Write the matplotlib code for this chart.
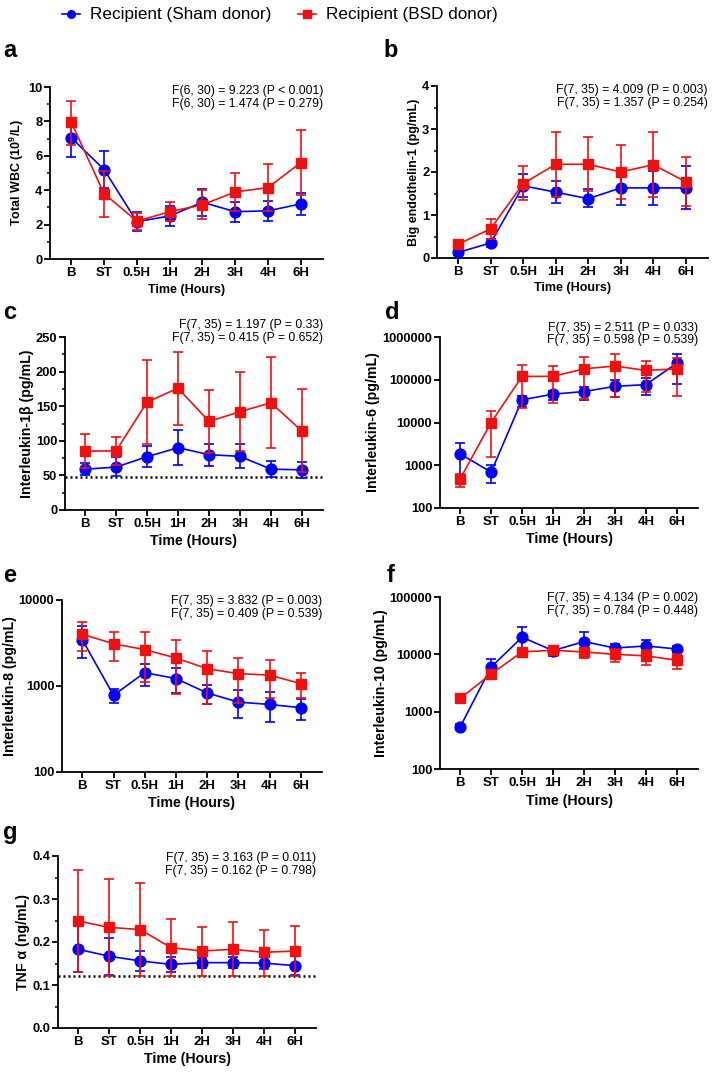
import numpy as np
import matplotlib
matplotlib.use("Agg")
import matplotlib.pyplot as plt
from matplotlib.ticker import FixedLocator, NullLocator, MultipleLocator
from matplotlib.lines import Line2D

plt.rcParams['font.family'] = ['Liberation Sans', 'DejaVu Sans']
plt.rcParams['mathtext.fontset'] = 'custom'
plt.rcParams['mathtext.rm'] = 'Liberation Sans'
plt.rcParams['mathtext.bf'] = 'Liberation Sans:bold'

W, H = 712, 1073
BLUE = '#0000FF'
RED = '#F01010'

times = ['B', 'ST', '0.5H', '1H', '2H', '3H', '4H', '6H']

# a - total WBC
wbc_sham = [7.05, 5.2, 2.17, 2.5, 3.3, 2.75, 2.8, 3.2]
wbc_sham_lo = [5.95, 4.1, 1.6, 1.9, 2.5, 2.15, 2.2, 2.55]
wbc_sham_hi = [8.15, 6.3, 2.75, 3.1, 4.05, 3.3, 3.4, 3.85]
wbc_bsd = [7.95, 3.8, 2.2, 2.75, 3.15, 3.9, 4.15, 5.6]
wbc_bsd_lo = [6.65, 2.45, 1.7, 2.2, 2.3, 2.8, 2.8, 3.7]
wbc_bsd_hi = [9.2, 5.1, 2.65, 3.3, 4.0, 5.0, 5.55, 7.5]

# b - big endothelin-1
et1_sham = [0.13, 0.35, 1.68, 1.53, 1.38, 1.63, 1.63, 1.63]
et1_sham_lo = [0.06, 0.25, 1.42, 1.28, 1.18, 1.23, 1.23, 1.13]
et1_sham_hi = [0.2, 0.45, 1.95, 1.78, 1.6, 2.02, 2.02, 2.15]
et1_bsd = [0.32, 0.68, 1.73, 2.18, 2.18, 2.0, 2.17, 1.77]
et1_bsd_lo = [0.27, 0.45, 1.34, 1.43, 1.55, 1.38, 1.42, 1.2]
et1_bsd_hi = [0.37, 0.9, 2.13, 2.93, 2.82, 2.62, 2.92, 2.34]

# c - IL-1b
il1b_sham = [59, 62, 77, 90, 80, 77.5, 59, 58]
il1b_sham_lo = [50, 49, 62, 65, 64, 60, 47, 46]
il1b_sham_hi = [68, 76, 93, 115, 96, 95, 71, 70]
il1b_bsd = [85, 85.5, 156, 176, 128, 142, 155, 114]
il1b_bsd_lo = [60, 65, 96, 123, 83, 85, 90, 55]
il1b_bsd_hi = [110, 106, 217, 229, 173, 199, 221, 175]
il1b_lod = 47

# d - IL-6
il6_sham = [1850, 690, 34000, 46000, 53000, 70000, 77000, 245000]
il6_sham_lo = [450, 390, 23000, 33000, 34000, 40000, 44000, 80000]
il6_sham_hi = [3400, 1000, 42000, 55000, 68000, 100000, 108000, 410000]
il6_bsd = [480, 10000, 120000, 120000, 180000, 210000, 165000, 180000]
il6_bsd_lo = [315, 1550, 22000, 28000, 35000, 40000, 53000, 42000]
il6_bsd_hi = [620, 19000, 220000, 210000, 340000, 390000, 275000, 330000]

# e - IL-8
il8_sham = [3450, 780, 1430, 1220, 830, 650, 610, 560]
il8_sham_lo = [2100, 630, 1000, 830, 620, 420, 380, 400]
il8_sham_hi = [5000, 930, 1800, 1600, 1020, 890, 860, 700]
il8_bsd = [4000, 3100, 2650, 2120, 1590, 1390, 1340, 1065]
il8_bsd_lo = [2560, 1950, 1100, 800, 620, 640, 720, 720]
il8_bsd_hi = [5500, 4250, 4200, 3450, 2550, 2100, 2000, 1420]

# f - IL-10
il10_sham = [540, 6000, 19900, 11600, 16700, 12900, 14000, 12400]
il10_sham_lo = [470, 3800, 9000, 9500, 11000, 11000, 11000, 10800]
il10_sham_hi = [620, 8400, 30500, 13600, 24300, 15300, 17800, 14200]
il10_bsd = [1700, 4550, 11000, 11800, 11000, 10000, 9400, 7900]
il10_bsd_lo = [1400, 3700, 9000, 9800, 8800, 7300, 6500, 5600]
il10_bsd_hi = [2000, 5300, 12500, 13000, 13000, 12500, 12000, 10000]

# g - TNF alpha
tnf_sham = [0.183, 0.167, 0.156, 0.148, 0.152, 0.152, 0.151, 0.145]
tnf_sham_lo = [0.130, 0.124, 0.132, 0.131, 0.140, 0.140, 0.138, 0.123]
tnf_sham_hi = [0.237, 0.210, 0.180, 0.164, 0.163, 0.164, 0.164, 0.168]
tnf_bsd = [0.249, 0.234, 0.229, 0.187, 0.179, 0.183, 0.176, 0.179]
tnf_bsd_lo = [0.131, 0.122, 0.122, 0.122, 0.122, 0.122, 0.122, 0.122]
tnf_bsd_hi = [0.368, 0.347, 0.337, 0.253, 0.235, 0.246, 0.229, 0.237]
tnf_lod = 0.122

stats = {
    'a': ['F(6, 30) = 9.223 (P < 0.001)', 'F(6, 30) = 1.474 (P = 0.279)'],
    'b': ['F(7, 35) = 4.009 (P = 0.003)', 'F(7, 35) = 1.357 (P = 0.254)'],
    'c': ['F(7, 35) = 1.197 (P = 0.33)', 'F(7, 35) = 0.415 (P = 0.652)'],
    'd': ['F(7, 35) = 2.511 (P = 0.033)', 'F(7, 35) = 0.598 (P = 0.539)'],
    'e': ['F(7, 35) = 3.832 (P = 0.003)', 'F(7, 35) = 0.409 (P = 0.539)'],
    'f': ['F(7, 35) = 4.134 (P = 0.002)', 'F(7, 35) = 0.784 (P = 0.448)'],
    'g': ['F(7, 35) = 3.163 (P = 0.011)', 'F(7, 35) = 0.162 (P = 0.798)'],
}

fig = plt.figure(figsize=(W / 100, H / 100), dpi=100)


def make_axes(x0, x1, ytop, ybot):
    return fig.add_axes([x0 / W, 1 - ybot / H, (x1 - x0) / W, (ybot - ytop) / H])


def series(ax, m, lo, hi, color, marker, z):
    x = np.arange(len(m))
    m = np.array(m, dtype=float)
    yerr = [m - np.array(lo), np.array(hi) - m]
    ax.errorbar(x, m, yerr=yerr, color=color, marker=marker, ms=7.8,
                lw=1.2, elinewidth=1.2, capsize=3.8, capthick=1.2,
                zorder=z, clip_on=False)


def style(ax, ylabel, small):
    lab = 9 if small else 10.2
    for s in ['top', 'right']:
        ax.spines[s].set_visible(False)
    for s in ['left', 'bottom']:
        ax.spines[s].set_linewidth(1.3)
    ax.set_xlim(-0.65, 7.68)
    ax.set_xticks(np.arange(len(times)))
    ax.set_xticklabels(times, fontweight='bold', fontsize=9.5)
    ax.tick_params(axis='x', which='major', length=4, width=1.3, direction='out', pad=2)
    ax.tick_params(axis='y', which='major', length=4, width=1.3, direction='out', pad=1.5)
    ax.tick_params(axis='y', which='minor', length=2.5, width=1.1)
    for t in ax.get_yticklabels():
        t.set_fontweight('bold')
        t.set_fontsize(9.3)
    ax.set_xlabel('Time (Hours)', fontweight='bold', fontsize=lab, labelpad=3)
    ax.set_ylabel(ylabel, fontweight='bold', fontsize=lab, labelpad=1.5)


def stat_text(ax, key, dy):
    for i, s in enumerate(stats[key]):
        ax.annotate(s, xy=(1, 1), xycoords='axes fraction',
                    xytext=(0, dy - i * 9), textcoords='offset points',
                    ha='right', va='center', fontsize=8.8)


def log_ticks(ax, lo, hi):
    ax.set_yscale('log')
    ax.set_ylim(lo, hi)
    vals = [10 ** k for k in range(int(np.log10(lo)), int(np.log10(hi)) + 1)]
    ax.yaxis.set_major_locator(FixedLocator(vals))
    ax.yaxis.set_minor_locator(NullLocator())
    ax.set_yticklabels([str(v) for v in vals])


def hline(ax, y):
    ax.axhline(y, color='black', lw=1.8, ls=(0, (0.8, 1.2)), zorder=1)


# a
ax = make_axes(50, 323, 87, 259)
series(ax, wbc_sham, wbc_sham_lo, wbc_sham_hi, BLUE, 'o', 3)
series(ax, wbc_bsd, wbc_bsd_lo, wbc_bsd_hi, RED, 's', 4)
ax.set_ylim(0, 10)
ax.yaxis.set_major_locator(MultipleLocator(2))
ax.yaxis.set_minor_locator(MultipleLocator(1))
style(ax, r'Total WBC (10$^{\mathbf{9}}$/L)', True)
stat_text(ax, 'a', -3)

# b
ax = make_axes(437, 708, 86, 258)
series(ax, et1_sham, et1_sham_lo, et1_sham_hi, BLUE, 'o', 3)
series(ax, et1_bsd, et1_bsd_lo, et1_bsd_hi, RED, 's', 4)
ax.set_ylim(0, 4)
ax.yaxis.set_major_locator(MultipleLocator(1))
ax.yaxis.set_minor_locator(MultipleLocator(0.5))
style(ax, 'Big endothelin-1 (pg/mL)', True)
stat_text(ax, 'b', -3)

# c
ax = make_axes(65, 323, 337, 510)
hline(ax, il1b_lod)
series(ax, il1b_sham, il1b_sham_lo, il1b_sham_hi, BLUE, 'o', 3)
series(ax, il1b_bsd, il1b_bsd_lo, il1b_bsd_hi, RED, 's', 4)
ax.set_ylim(0, 250)
ax.yaxis.set_major_locator(MultipleLocator(50))
ax.yaxis.set_minor_locator(MultipleLocator(25))
style(ax, 'Interleukin-1β (pg/mL)', False)
stat_text(ax, 'c', 8.5)

# d
ax = make_axes(440, 698, 337, 508)
series(ax, il6_sham, il6_sham_lo, il6_sham_hi, BLUE, 'o', 3)
series(ax, il6_bsd, il6_bsd_lo, il6_bsd_hi, RED, 's', 4)
log_ticks(ax, 100, 1e6)
style(ax, 'Interleukin-6 (pg/mL)', False)
stat_text(ax, 'd', 6.5)

# e
ax = make_axes(62, 322, 600, 772)
series(ax, il8_sham, il8_sham_lo, il8_sham_hi, BLUE, 'o', 3)
series(ax, il8_bsd, il8_bsd_lo, il8_bsd_hi, RED, 's', 4)
log_ticks(ax, 100, 1e4)
style(ax, 'Interleukin-8 (pg/mL)', False)
stat_text(ax, 'e', -1)

# f
ax = make_axes(440, 698, 597, 769)
series(ax, il10_sham, il10_sham_lo, il10_sham_hi, BLUE, 'o', 3)
series(ax, il10_bsd, il10_bsd_lo, il10_bsd_hi, RED, 's', 4)
log_ticks(ax, 100, 1e5)
style(ax, 'Interleukin-10 (pg/mL)', False)
stat_text(ax, 'f', -1)

# g
ax = make_axes(58, 316, 856, 1028)
hline(ax, tnf_lod)
series(ax, tnf_sham, tnf_sham_lo, tnf_sham_hi, BLUE, 'o', 3)
series(ax, tnf_bsd, tnf_bsd_lo, tnf_bsd_hi, RED, 's', 4)
ax.set_ylim(0, 0.4)
ax.yaxis.set_major_locator(MultipleLocator(0.1))
ax.yaxis.set_minor_locator(MultipleLocator(0.05))
ax.yaxis.set_major_formatter(matplotlib.ticker.FormatStrFormatter('%.1f'))
style(ax, 'TNF α (ng/mL)', False)
stat_text(ax, 'g', -1.5)

# panel letters
for letter, x, yb in [('a', 3, 57), ('b', 383, 57), ('c', 3, 319), ('d', 385, 319),
                      ('e', 3, 582), ('f', 387, 582), ('g', 3, 839)]:
    fig.text(x / W, 1 - yb / H, letter, fontsize=17, fontweight='bold',
             ha='left', va='baseline')

# legend
handles = [Line2D([], [], color=BLUE, marker='o', ms=5.5, lw=1.2),
           Line2D([], [], color=RED, marker='s', ms=5.5, lw=1.2)]
fig.legend(handles, ['Recipient (Sham donor)', 'Recipient (BSD donor)'],
           loc='center', bbox_to_anchor=(280 / W, 1 - 15 / H), ncol=2,
           frameon=False, fontsize=12.3, handlelength=1.0, handletextpad=0.6,
           columnspacing=1.6)

fig.savefig('out.png', dpi=100)
